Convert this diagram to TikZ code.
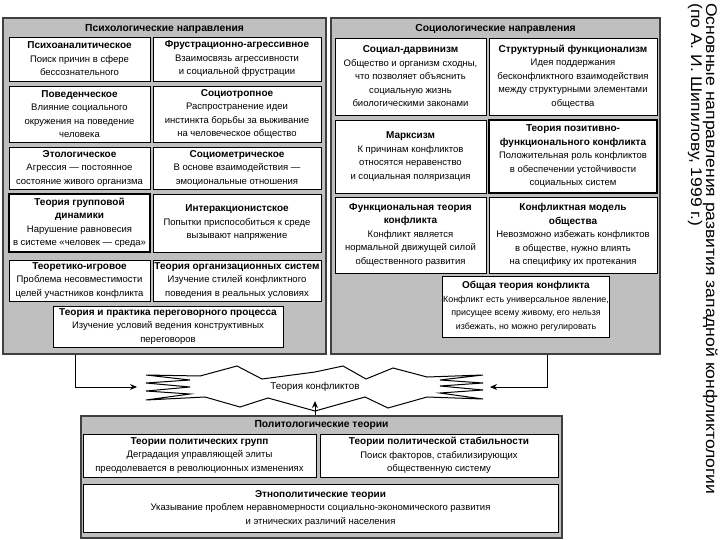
\documentclass[tikz,border=0pt]{standalone}
\usepackage{fontspec}
\setmainfont{Liberation Sans}
\usetikzlibrary{arrows.meta}
\definecolor{panelgray}{gray}{0.75}
\newcommand{\hd}[1]{{\fontsize{10}{13.5}\selectfont\bfseries #1}}
\begin{document}
\begin{tikzpicture}[x=1pt,y=-1pt,
  panel/.style={draw=black!75, line width=1.4pt, fill=panelgray, inner sep=0pt},
  ibox/.style={draw=black, line width=0.9pt, fill=white, align=center, inner sep=0.5pt,
    font=\fontsize{9.5}{13.5}\selectfont},
  head/.style={font=\bfseries\fontsize{10.3}{12}\selectfont, inner sep=0pt},
  arr/.style={line width=1pt, -{Stealth[length=7pt,width=6pt]}},
  burst/.style={draw=black, line width=1pt, fill=white, line join=miter},
  titletext/.style={font=\fontsize{15.5}{15}\selectfont\addfontfeature{FakeStretch=1.13}, inner sep=0pt, rotate=-90, anchor=base west}]
\useasboundingbox (0,0) rectangle (720,540);

% ---------- Psychological panel ----------
\node[panel, minimum width=323pt, minimum height=336pt] (psy) at (164.5,186) {};
\node[head] (psyh) at (164.5,29) {Психологические направления};
\node[ibox, minimum width=141pt, minimum height=44pt] (pa) at (79.5,59)
  {\hd{Психоаналитическое}\\Поиск причин в сфере\\бессознательного};
\node[ibox, minimum width=168pt, minimum height=44pt] (fa) at (237,59)
  {\hd{Фрустрационно-агрессивное}\\Взаимосвязь агрессивности\\и социальной фрустрации};
\node[ibox, minimum width=141pt, minimum height=56pt] (pv) at (79.5,114)
  {\hd{Поведенческое}\\Влияние социального\\окружения на поведение\\человека};
\node[ibox, minimum width=168pt, minimum height=56pt] (st) at (237,114)
  {\hd{Социотропное}\\Распространение идеи\\инстинкта борьбы за выживание\\на человеческое общество};
\node[ibox, minimum width=141pt, minimum height=42pt] (et) at (79.5,168)
  {\hd{Этологическое}\\Агрессия — постоянное\\состояние живого организма};
\node[ibox, minimum width=168pt, minimum height=42pt] (sm) at (237,168)
  {\hd{Социометрическое}\\В основе взаимодействия —\\эмоциональные отношения};
\node[ibox, minimum width=141pt, minimum height=58pt, line width=1.2pt] (gd) at (79.5,223)
  {\hd{Теория групповой}\\\hd{динамики}\\Нарушение равновесия\\в системе «человек — среда»};
\node[ibox, minimum width=168pt, minimum height=58pt] (ia) at (237,223)
  {\hd{Интеракционистское}\\Попытки приспособиться к среде\\вызывают напряжение};
\node[ibox, minimum width=141pt, minimum height=41pt] (ti) at (79.5,280.5)
  {\hd{Теоретико-игровое}\\Проблема несовместимости\\целей участников конфликта};
\node[ibox, minimum width=168pt, minimum height=41pt] (os) at (237,280.5)
  {\hd{Теория организационных систем}\\Изучение стилей конфликтного\\поведения в реальных условиях};
\node[ibox, minimum width=230pt, minimum height=41pt] (pp) at (168,326.5)
  {\hd{Теория и практика переговорного процесса}\\Изучение условий ведения конструктивных\\переговоров};

% ---------- Sociological panel ----------
\node[panel, minimum width=329pt, minimum height=336pt] (soc) at (495.5,186) {};
\node[head] (soch) at (495.5,29) {Социологические направления};
\node[ibox, minimum width=151pt, minimum height=77pt] (sd) at (410.5,76.5)
  {\hd{Социал-дарвинизм}\\Общество и организм сходны,\\что позволяет объяснить\\социальную жизнь\\биологическими законами};
\node[ibox, minimum width=168pt, minimum height=77pt] (sf) at (573,76.5)
  {\hd{Структурный функционализм}\\Идея поддержания\\бесконфликтного взаимодействия\\между структурными элементами\\общества};
\node[ibox, minimum width=151pt, minimum height=73pt] (mx) at (410.5,156.5)
  {\hd{Марксизм}\\К причинам конфликтов\\относятся неравенство\\и социальная поляризация};
\node[ibox, minimum width=168pt, minimum height=73pt, line width=1.3pt] (pf) at (573,156.5)
  {\hd{Теория позитивно-}\\\hd{функционального конфликта}\\Положительная роль конфликтов\\в обеспечении устойчивости\\социальных систем};
\node[ibox, minimum width=151pt, minimum height=76pt] (ft) at (410.5,235)
  {\hd{Функциональная теория}\\\hd{конфликта}\\Конфликт является\\нормальной движущей силой\\общественного развития};
\node[ibox, minimum width=168pt, minimum height=76pt] (km) at (573,235)
  {\hd{Конфликтная модель}\\\hd{общества}\\Невозможно избежать конфликтов\\в обществе, нужно влиять\\на специфику их протекания};
\node[ibox, minimum width=166pt, minimum height=61pt, font=\fontsize{8.9}{13.5}\selectfont] (ot) at (526,306.5)
  {\hd{Общая теория конфликта}\\Конфликт есть универсальное явление,\\присущее всему живому, его нельзя\\избежать, но можно регулировать};

% ---------- Political panel ----------
\node[panel, minimum width=481pt, minimum height=122pt] (pol) at (321.5,477) {};
\node[head] (polh) at (321.5,425) {Политологические теории};
\node[ibox, minimum width=233pt, minimum height=43pt] (pg) at (199.5,455.5)
  {\hd{Теории политических групп}\\Деградация управляющей элиты\\преодолевается в революционных изменениях};
\node[ibox, minimum width=238pt, minimum height=43pt] (ps) at (439,455.5)
  {\hd{Теории политической стабильности}\\Поиск факторов, стабилизирующих\\общественную систему};
\node[ibox, minimum width=475pt, minimum height=48pt] (ep) at (320.5,508)
  {\hd{Этнополитические теории}\\Указывание проблем неравномерности социально-экономического развития\\и этнических различий населения};

% ---------- Central burst ----------
\draw[burst]
  (200,376) -- (237,366) -- (262,379) -- (315,372) -- (343,366) -- (366,379)
  -- (393,368) -- (427,377)
  -- (483,375) -- (440,380) -- (483,383) -- (440,386) -- (483,390) -- (440,393)
  -- (483,399) -- (427,397)
  -- (388,408) -- (365,397) -- (315,411) -- (268,398) -- (240,407) -- (205,397)
  -- (146,400) -- (190,394) -- (146,391) -- (190,387) -- (146,383) -- (190,380)
  -- (146,375) -- cycle;
\node[font=\fontsize{9.8}{12}\selectfont, inner sep=0pt] (tk) at (315,387) {Теория конфликтов};
\coordinate (inL) at (137,387);
\coordinate (inR) at (490,387);
\coordinate (inB) at (315,401);

% ---------- Connectors ----------
\draw[arr] ([xshift=73pt]psy.south west) |- (inL);
\draw[arr] ([xshift=217pt]soc.south west) |- (inR);
\draw[arr] (pol.north -| inB) -- (inB);

% ---------- Title ----------
\node[titletext] (t1) at (706,3) {Основные направления развития западной конфликтологии};
\node[titletext] (t2) at (691,3) {(по А. И. Шипилову, 1999 г.)};
\end{tikzpicture}
\end{document}
